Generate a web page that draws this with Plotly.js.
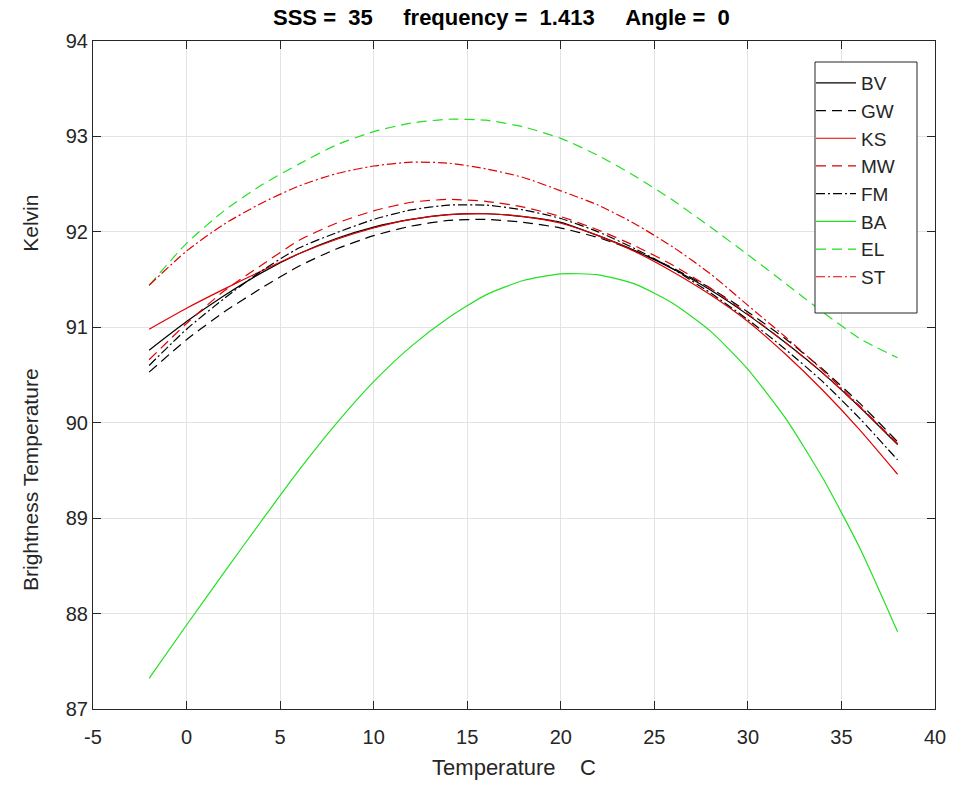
<!DOCTYPE html>
<html>
<head>
<meta charset="utf-8">
<script src="https://cdn.plot.ly/plotly-3.0.1.min.js"></script>
<style>html,body{margin:0;padding:0;background:#fff;}#chart{width:953px;height:791px;}</style>
</head>
<body>
<div id="chart"></div>
<script>
// Temperature (C)
var temperature = [-2,0,2,4,6,8,10,12,14,16,18,20,22,24,26,28,30,32,34,36,38];
// Brightness temperature (K) per model
var BV = [90.76,91.06,91.33,91.57,91.77,91.93,92.05,92.13,92.18,92.19,92.16,92.10,91.96,91.80,91.61,91.39,91.13,90.84,90.52,90.16,89.77];
var GW = [90.53,90.87,91.16,91.41,91.64,91.82,91.96,92.06,92.12,92.13,92.10,92.04,91.94,91.80,91.62,91.41,91.16,90.88,90.56,90.20,89.80];
var KS = [90.98,91.20,91.40,91.59,91.77,91.92,92.04,92.13,92.18,92.19,92.16,92.09,91.96,91.79,91.58,91.34,91.06,90.72,90.34,89.92,89.46];
var MW = [90.66,91.04,91.38,91.65,91.91,92.09,92.22,92.31,92.34,92.32,92.26,92.16,92.02,91.85,91.65,91.41,91.14,90.84,90.52,90.16,89.78];
var FM = [90.60,90.98,91.30,91.59,91.83,91.99,92.13,92.23,92.28,92.28,92.23,92.14,92.00,91.82,91.61,91.36,91.08,90.77,90.43,90.04,89.61];
var BA = [87.32,87.88,88.43,88.97,89.50,89.99,90.43,90.80,91.10,91.34,91.49,91.56,91.55,91.45,91.25,90.96,90.56,90.05,89.42,88.68,87.81];
var EL = [91.44,91.88,92.22,92.49,92.71,92.91,93.05,93.14,93.18,93.17,93.10,92.98,92.80,92.58,92.33,92.05,91.76,91.46,91.16,90.88,90.68];
var ST = [91.44,91.80,92.08,92.30,92.48,92.61,92.69,92.73,92.72,92.66,92.57,92.43,92.28,92.08,91.84,91.56,91.23,90.90,90.55,90.17,89.78];
var seriesNames = ["BV","GW","KS","MW","FM","BA","EL","ST"];
var seriesData = [BV,GW,KS,MW,FM,BA,EL,ST];
var xTicks = [-5,0,5,10,15,20,25,30,35,40];
var yTicks = [87,88,89,90,91,92,93,94];

var BLACK = "#000000", RED = "#e00000", GREEN = "#22e022";
var DASH = "10px,6px", DASHDOT = "9px,3px,2px,3px";
var styles = [
  {color: BLACK, dash: "solid"},
  {color: BLACK, dash: DASH},
  {color: RED, dash: "solid"},
  {color: RED, dash: DASH},
  {color: BLACK, dash: DASHDOT},
  {color: GREEN, dash: "solid"},
  {color: GREEN, dash: DASH},
  {color: RED, dash: DASHDOT}
];

var traces = seriesNames.map(function(n, i){
  return {
    x: temperature, y: seriesData[i], name: n, type: "scatter", mode: "lines",
    line: {color: styles[i].color, dash: styles[i].dash, width: 1.2, shape: "spline", smoothing: 0.6},
    legendgroup: n
  };
});

var F = "Liberation Sans, Arial, sans-serif";
var NB = "\u00a0";
function sp(n){ return new Array(n+1).join(NB); }

// plot area in pixels: x 93..935, y 41..709
var PL = 93, PR = 935, PT = 41, PB = 709;
function px2paperX(p){ return (p - PL) / (PR - PL); }
function px2paperY(p){ return (PB - p) / (PB - PT); }

var layout = {
  width: 953, height: 791,
  margin: {l: PL, r: 953 - PR, t: PT, b: 791 - PB},
  paper_bgcolor: "#ffffff", plot_bgcolor: "#ffffff",
  font: {family: F, size: 20, color: "#262626"},
  title: {
    text: "<b>SSS =" + sp(2) + "35" + sp(5) + "frequency =" + sp(2) + "1.413" + sp(5) + "Angle =" + sp(2) + "0</b>",
    font: {family: F, size: 22, color: "#000000"},
    x: 0.485, xref: "paper", xanchor: "center", y: 1 - 17/791, yref: "container", yanchor: "middle"
  },
  xaxis: {
    range: [-5, 40], tickvals: xTicks, ticktext: xTicks.map(String),
    showgrid: true, gridcolor: "#e3e3e3", gridwidth: 1, zeroline: false,
    showline: true, linecolor: "#262626", linewidth: 1, mirror: "ticks",
    ticks: "inside", ticklen: 8, tickcolor: "#262626",
    tickfont: {family: F, size: 20, color: "#262626"},
    ticklabelstandoff: 10,
    title: {text: "Temperature" + sp(4) + "C", font: {family: F, size: 22, color: "#262626"}, standoff: 12}
  },
  yaxis: {
    range: [87, 94], tickvals: yTicks, ticktext: yTicks.map(String),
    showgrid: true, gridcolor: "#e3e3e3", gridwidth: 1, zeroline: false,
    showline: true, linecolor: "#262626", linewidth: 1, mirror: "ticks",
    ticks: "inside", ticklen: 8, tickcolor: "#262626",
    tickfont: {family: F, size: 20, color: "#262626"}
  },
  annotations: [{
    text: "Brightness Temperature" + sp(20) + "Kelvin",
    textangle: -90, showarrow: false,
    xref: "paper", yref: "paper", x: px2paperX(31), y: px2paperY(393),
    xanchor: "center", yanchor: "middle",
    font: {family: F, size: 21, color: "#262626"}
  }],
  shapes: [{
    type: "rect", xref: "paper", yref: "paper", layer: "above",
    x0: px2paperX(815), x1: px2paperX(917), y0: px2paperY(313), y1: px2paperY(62),
    line: {color: "#262626", width: 1}, fillcolor: "#ffffff"
  }],
  showlegend: true,
  legend: {
    x: px2paperX(811), xanchor: "left", y: px2paperY(64), yanchor: "top",
    bgcolor: "rgba(0,0,0,0)", borderwidth: 0,
    font: {family: F, size: 19, color: "#262626"},
    itemwidth: 40, tracegroupgap: 9, traceorder: "normal"
  }
};

Plotly.newPlot("chart", traces, layout, {displayModeBar: false, staticPlot: true});
</script>
</body>
</html>
